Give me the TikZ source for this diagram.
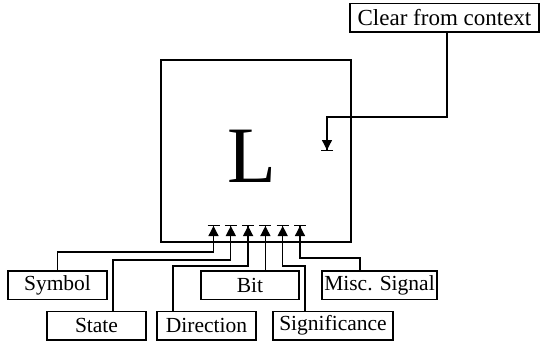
\documentclass[tikz,border=0pt]{standalone}
\usepackage{fontspec}
\setmainfont{Liberation Serif}
\usetikzlibrary{arrows.meta}

\tikzset{
  lbl/.style={draw,line width=1.5pt,inner sep=0pt,minimum height=28.5pt,font=\fontsize{21.5}{24}\selectfont},
  sig/.style={line width=1.3pt,-{Triangle[length=10pt,width=10pt]Bar[width=12pt,line width=1pt]}}
}

\begin{document}
\begin{tikzpicture}[x=1pt,y=-1pt]
   \useasboundingbox (0,0) rectangle (541,343);
   \draw (256,151) node[draw,line width=1.4pt,minimum width=190pt,minimum height=182pt] (L) {};
   \draw (251.5,156) node[font=\fontsize{80}{80}\selectfont] (letter) {L};
   \draw (444.5,17.5) node[lbl,minimum width=189pt,font=\fontsize{23}{24}\selectfont] (clear) {Clear from context};
     \draw (57.5,285) node[lbl,minimum width=99pt] (symbol) {Symbol};
     \draw (96.5,325.5) node[lbl,minimum width=99pt] (state) {State};
     \draw (206.5,325.5) node[lbl,minimum width=99pt] (direction) {Direction};
     \draw (250,285) node[lbl,minimum width=98pt] (bit) {Bit};
     \draw (333,325.5) node[lbl,minimum width=120pt] (signif) {Significance};
     \draw (379.5,285) node[lbl,minimum width=115pt] (misc) {Misc. Signal};

   \coordinate (ctx) at (327,151);
   \coordinate (in1) at (213.5,225);
   \coordinate (in2) at (230.8,225);
   \coordinate (in3) at (248.1,225);
   \coordinate (in4) at (265.4,225);
   \coordinate (in5) at (282.7,225);
   \coordinate (in6) at (300,225);

     \draw[sig] (447,0 |- clear.south) |- (ctx |- 0,117) -- (ctx);
     \draw[sig] (symbol.north) |- (in1 |- 0,252) -- (in1);
     \draw[sig] (113,0 |- state.north) |- (in2 |- 0,260) -- (in2);
     \draw[sig] (173,0 |- direction.north) |- (in3 |- 0,266) -- (in3);
     \draw[sig] (in4 |- bit.north) -- (in4);
     \draw[sig] (305,0 |- signif.north) |- (in5 |- 0,266) -- (in5);
     \draw[sig] (360,0 |- misc.north) |- (in6 |- 0,258) -- (in6);
\end{tikzpicture}
\end{document}
